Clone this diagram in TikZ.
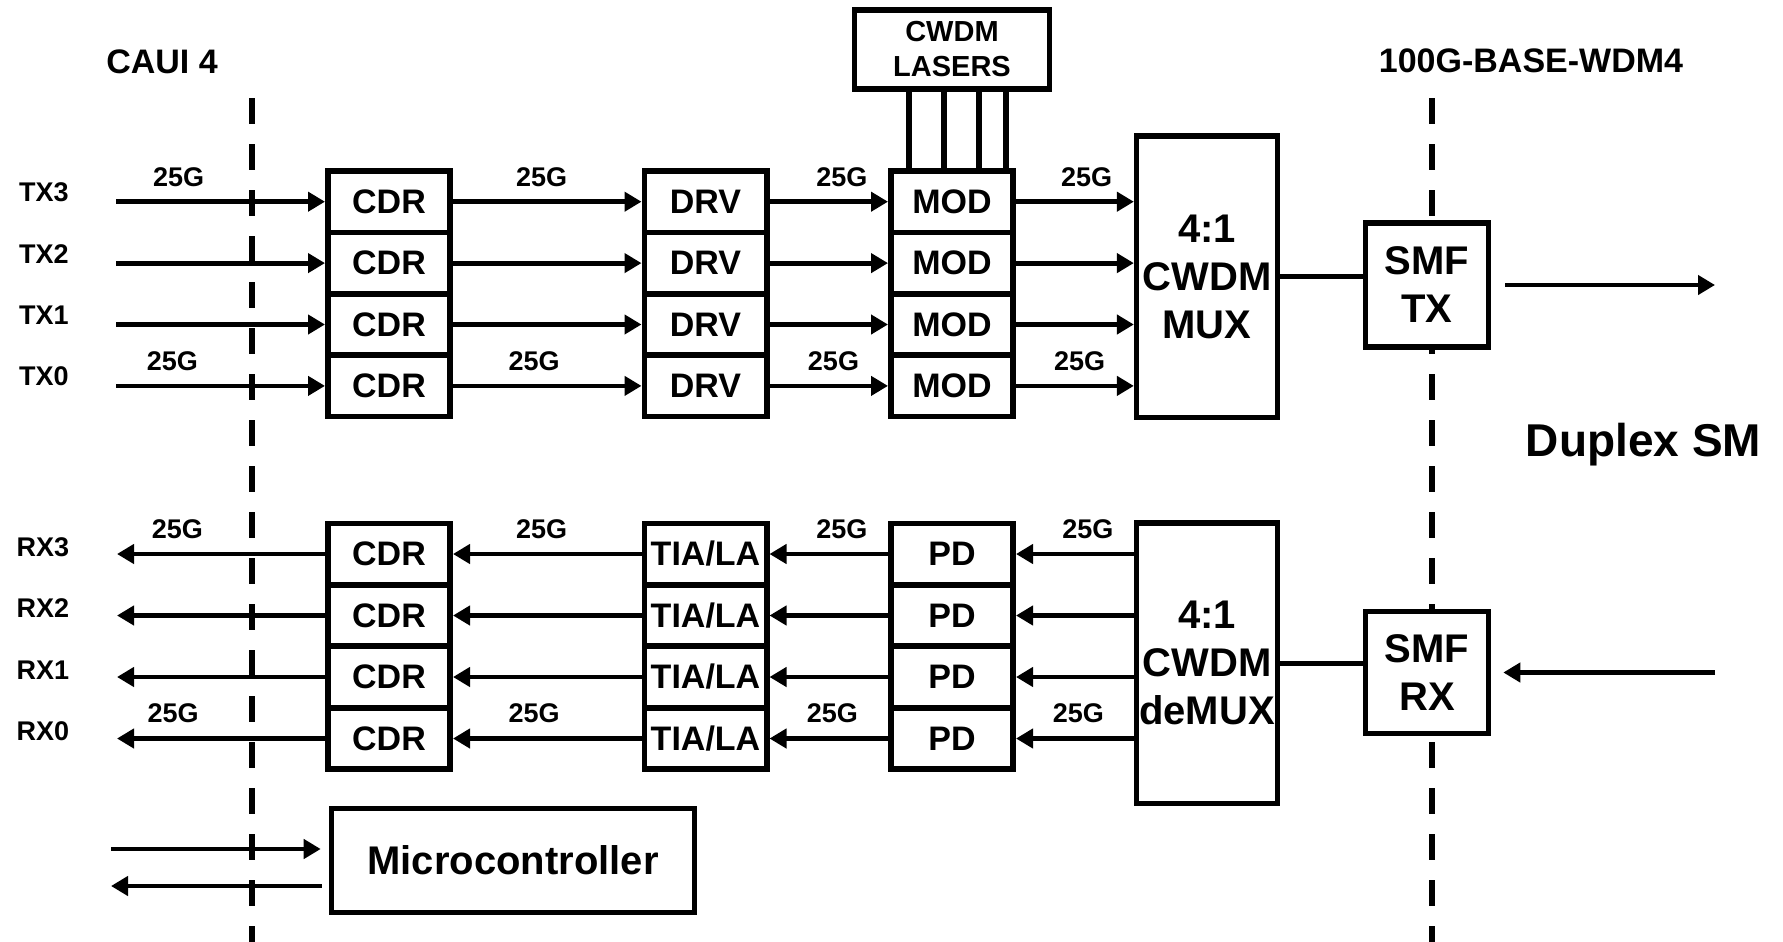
\documentclass[tikz,border=0pt]{standalone}
\usepackage{fontspec}
\setmainfont{Liberation Sans}
\usetikzlibrary{arrows.meta,calc}

\tikzset{
  blk/.style={draw, fill=white, line width=2.8pt, minimum width=61.2pt, minimum height=30.7pt,
    inner sep=0pt, font=\bfseries\fontsize{17pt}{20pt}\selectfont},
  bigblk/.style={draw, fill=white, line width=2.8pt, inner sep=0pt, align=center,
    font=\bfseries\fontsize{20pt}{24pt}\selectfont},
  sig/.style={line width=2.4pt},
  rate/.style={inner sep=0pt, above=6.5pt, font=\bfseries\fontsize{13.5pt}{16pt}\selectfont},
  port/.style={anchor=base, inner sep=0pt, font=\bfseries\fontsize{13.5pt}{16pt}\selectfont},
  head/.style={anchor=base, inner sep=0pt, font=\bfseries\fontsize{17pt}{20pt}\selectfont},
  cut/.style={line width=3.2pt, dash pattern=on 13pt off 10pt},
}

\begin{document}
\begin{tikzpicture}[x=0.5pt, y=-0.5pt, >={Triangle[length=8.5pt, width=9.5pt]}]
  \useasboundingbox (0,0) rectangle (1783,942);

  % interface boundaries
  \coordinate (cauitop) at (252,98);
  \coordinate (wdmtop) at (1432,98);
  \draw[cut] (cauitop) -- (252,942);
  \draw[cut] (wdmtop) -- (1432,942);
  \node[head] (caui) at (162,73) {CAUI 4};
  \node[head] (wdm) at (1531,72) {100G-BASE-WDM4};
  \node[head, font=\bfseries\fontsize{23pt}{26pt}\selectfont] (duplex) at (1643.5,456.7) {Duplex SM};

  % transmit lanes
  \foreach \i/\y in {3/201.7, 2/263.1, 1/324.5, 0/385.9} {
    \node[blk] (tcdr\i) at (389,\y) {CDR};
    \node[blk] (drv\i) at (705.5,\y) {DRV};
    \node[blk] (mod\i) at (952,\y) {MOD};
    \node[port] (txl\i) at (44,\y) {TX\i};
    \coordinate (txin\i) at (116,\y);
  }
  \node[bigblk, minimum width=70.35pt, minimum height=140.85pt] (mux) at (1207,276.7) {4:1\\CWDM\\MUX};
  \node[bigblk, minimum width=61.5pt, minimum height=62.25pt] (smftx) at (1427,285) {SMF\\TX};
  \node[bigblk, minimum width=97.5pt, minimum height=39.75pt,
    font=\bfseries\fontsize{14.5pt}{17.5pt}\selectfont] (lasers) at (952,49.5) {CWDM\\LASERS};
  \coordinate (txout) at (1715,285);

  \foreach \dx in {-43,-8,27,54}
    \draw[line width=3pt] ($(lasers.south)+(\dx,0)$) -- ($(mod3.north)+(\dx,0)$);

  \draw[->, sig] (txin3) -- (tcdr3) node[rate, pos=0.3] (ta) {25G};
  \draw[->, sig] (tcdr3) -- (drv3) node[rate, pos=0.47] (tb) {25G};
  \draw[->, sig] (drv3) -- (mod3) node[rate, pos=0.61] (tc) {25G};
  \draw[->, sig] (mod3) -- (mod3 -| mux.west) node[rate, pos=0.6] (td) {25G};
  \foreach \i in {2,1} {
    \draw[->, sig] (txin\i) -- (tcdr\i);
    \draw[->, sig] (tcdr\i) -- (drv\i);
    \draw[->, sig] (drv\i) -- (mod\i);
    \draw[->, sig] (mod\i) -- (mod\i -| mux.west);
  }
  \draw[->, sig] (txin0) -- (tcdr0) node[rate, pos=0.27] (te) {25G};
  \draw[->, sig] (tcdr0) -- (drv0) node[rate, pos=0.43] (tf) {25G};
  \draw[->, sig] (drv0) -- (mod0) node[rate, pos=0.54] (tg) {25G};
  \draw[->, sig] (mod0) -- (mod0 -| mux.west) node[rate, pos=0.54] (th) {25G};
  \draw[sig] (mux) -- (mux -| smftx.west);
  \draw[->, sig, shorten <=7pt] (smftx) -- (txout);

  % receive lanes
  \foreach \i/\y in {3/554, 2/615.5, 1/677, 0/738.5} {
    \node[blk] (rcdr\i) at (389,\y) {CDR};
    \node[blk] (tia\i) at (705.5,\y) {TIA/LA};
    \node[blk] (pd\i) at (952,\y) {PD};
    \node[port] (rxl\i) at (43,\y+2) {RX\i};
    \coordinate (rxout\i) at (117,\y);
  }
  \node[bigblk, minimum width=70.35pt, minimum height=140.15pt] (demux) at (1207,663.4) {4:1\\CWDM\\deMUX};
  \node[bigblk, minimum width=61.5pt, minimum height=61pt] (smfrx) at (1427,672.5) {SMF\\RX};
  \coordinate (rxin) at (1715,672.5);

  \draw[->, sig, shorten >=6pt] (rxin) -- (smfrx);
  \draw[sig] (demux) -- (demux -| smfrx.west);
  \draw[->, sig] (demux.west |- pd3) -- (pd3) node[rate, pos=0.39] (ra) {25G};
  \draw[->, sig] (pd3) -- (tia3) node[rate, pos=0.39] (rb) {25G};
  \draw[->, sig] (tia3) -- (rcdr3) node[rate, pos=0.53] (rc) {25G};
  \draw[->, sig] (rcdr3) -- (rxout3) node[rate, pos=0.71] (rd) {25G};
  \foreach \i in {2,1} {
    \draw[->, sig] (demux.west |- pd\i) -- (pd\i);
    \draw[->, sig] (pd\i) -- (tia\i);
    \draw[->, sig] (tia\i) -- (rcdr\i);
    \draw[->, sig] (rcdr\i) -- (rxout\i);
  }
  \draw[->, sig] (demux.west |- pd0) -- (pd0) node[rate, pos=0.47] (re) {25G};
  \draw[->, sig] (pd0) -- (tia0) node[rate, pos=0.47] (rf) {25G};
  \draw[->, sig] (tia0) -- (rcdr0) node[rate, pos=0.57] (rg) {25G};
  \draw[->, sig] (rcdr0) -- (rxout0) node[rate, pos=0.73] (rh) {25G};

  % management
  \node[bigblk, minimum width=181.5pt, minimum height=52pt] (micro) at (513,860.5) {Microcontroller};
  \coordinate (mcin) at (111,849);
  \coordinate (mcout) at (111,886);
  \draw[->, sig, shorten >=4pt] (mcin) -- (mcin -| micro.west);
  \draw[<-, sig, shorten >=3.5pt] (mcout) -- (mcout -| micro.west);
\end{tikzpicture}
\end{document}
